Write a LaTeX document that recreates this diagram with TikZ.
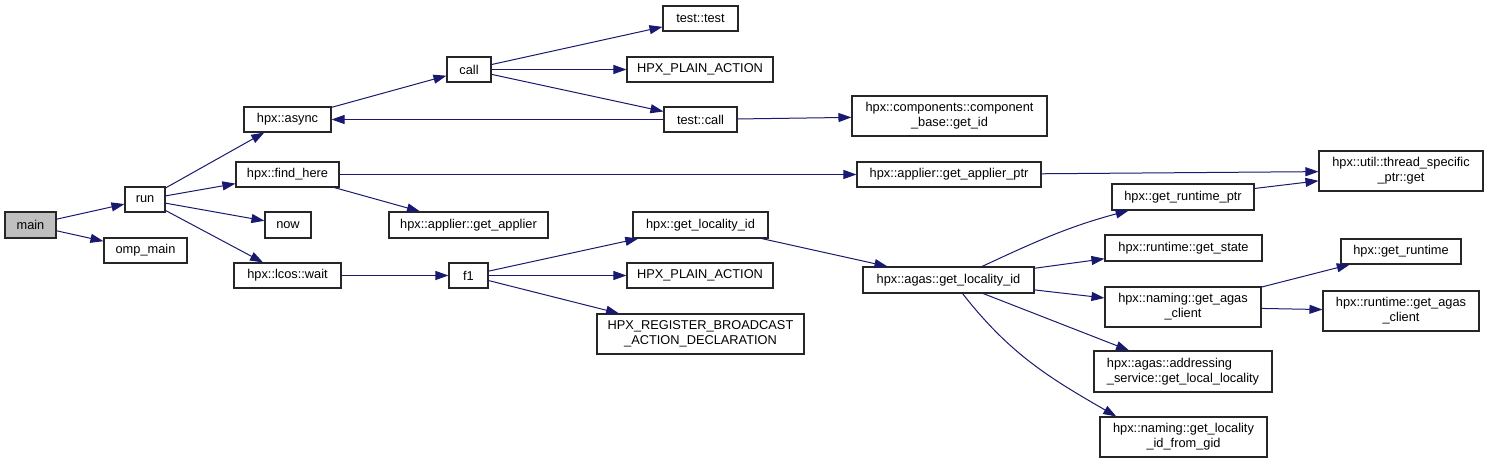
\documentclass[tikz,border=0pt]{standalone}
\usepackage{fontspec}
\setmainfont{Liberation Sans}
\usetikzlibrary{arrows.meta}
\definecolor{edgeblue}{RGB}{25,25,112}
\definecolor{mainfill}{RGB}{191,191,191}
\begin{document}
\begin{tikzpicture}[x=1pt,y=1pt,
  fn/.style={draw=black!85, line width=1.1pt, rectangle, inner sep=0pt, align=center,
    font=\fontsize{12.8}{15}\selectfont, fill=white},
  edge/.style={draw=edgeblue, line width=1pt, -{Triangle[length=13pt,width=9pt]}}
]
\useasboundingbox[fill=white] (0,0) rectangle (1488,463);
% rank 0
\node[fn, minimum width=51pt, minimum height=26pt, fill=mainfill] (main) at (30.5,238) {main};
% rank 1
\node[fn, minimum width=40pt, minimum height=25pt] (run) at (145,263.5) {run};
\node[fn, minimum width=83pt, minimum height=25pt] (omp) at (145.5,212.5) {omp\_main};
% rank 2
\node[fn, minimum width=87pt, minimum height=25pt] (async) at (287.5,343.5) {hpx::async};
\node[fn, minimum width=103pt, minimum height=25pt] (findhere) at (287.5,288.5) {hpx::find\_here};
\node[fn, minimum width=46pt, minimum height=26pt] (now) at (288,238) {now};
\node[fn, minimum width=107pt, minimum height=25pt] (wait) at (287.5,187.5) {hpx::lcos::wait};
% rank 3
\node[fn, minimum width=44pt, minimum height=25pt] (call) at (469,393.5) {call};
\node[fn, minimum width=159pt, minimum height=26pt] (getapplier) at (468.5,238) {hpx::applier::get\_applier};
\node[fn, minimum width=39pt, minimum height=25pt] (f1) at (468.5,187.5) {f1};
% rank 4
\node[fn, minimum width=75pt, minimum height=25pt] (testtest) at (700.5,444.5) {test::test};
\node[fn, minimum width=146pt, minimum height=25pt] (plainA) at (700,393.5) {HPX\_PLAIN\_ACTION};
\node[fn, minimum width=73pt, minimum height=25pt] (testcall) at (700.5,343.5) {test::call};
\node[fn, minimum width=135pt, minimum height=26pt] (getlocid) at (700.5,238) {hpx::get\_locality\_id};
\node[fn, minimum width=146pt, minimum height=25pt] (plainB) at (700,187.5) {HPX\_PLAIN\_ACTION};
\node[fn, minimum width=207pt, minimum height=40pt] (register) at (700.5,129) {HPX\_REGISTER\_BROADCAST\\\_ACTION\_DECLARATION};
% rank 5
\node[fn, minimum width=195pt, minimum height=40pt] (compbase) at (949.5,347) {hpx::components::component\\\_base::get\_id};
\node[fn, minimum width=184pt, minimum height=25pt] (applierptr) at (949,288.5) {hpx::applier::get\_applier\_ptr};
\node[fn, minimum width=171pt, minimum height=26pt] (agas) at (948.5,183) {hpx::agas::get\_locality\_id};
% rank 6
\node[fn, minimum width=142pt, minimum height=26pt] (grp) at (1183,266) {hpx::get\_runtime\_ptr};
\node[fn, minimum width=157pt, minimum height=26pt] (getstate) at (1183.5,215) {hpx::runtime::get\_state};
\node[fn, minimum width=156pt, minimum height=40pt] (naminggac) at (1183,156) {hpx::naming::get\_agas\\\_client};
\node[fn, minimum width=178pt, minimum height=41pt, align=left] (addr) at (1183,91.5) {hpx::agas::addressing\\\_service::get\_local\_locality};
\node[fn, minimum width=167pt, minimum height=40pt] (fromgid) at (1183.5,26) {hpx::naming::get\_locality\\\_id\_from\_gid};
% rank 7
\node[fn, minimum width=164pt, minimum height=40pt] (tsp) at (1401,292) {hpx::util::thread\_specific\\\_ptr::get};
\node[fn, minimum width=120pt, minimum height=25pt] (getruntime) at (1401,211.5) {hpx::get\_runtime};
\node[fn, minimum width=156pt, minimum height=40pt] (rtgac) at (1401,152) {hpx::runtime::get\_agas\\\_client};
% edges
\draw[edge] (main) -- (run);
\draw[edge] (main) -- (omp);
\draw[edge] (run) -- (async);
\draw[edge] (run) -- (findhere);
\draw[edge] (run) -- (now);
\draw[edge] (run) -- (wait);
\draw[edge] (async) -- (call);
\draw[edge] (testcall) -- (async);
\draw[edge] (call) -- (testtest);
\draw[edge] (call) -- (plainA);
\draw[edge] (call) -- (testcall);
\draw[edge] (testcall) -- (compbase);
\draw[edge] (findhere) -- (applierptr);
\draw[edge] (findhere) -- (getapplier);
\draw[edge] (applierptr) -- (tsp);
\draw[edge] (wait) -- (f1);
\draw[edge] (f1) -- (getlocid);
\draw[edge] (f1) -- (plainB);
\draw[edge] (f1) -- (register);
\draw[edge] (getlocid) -- (agas);
\draw[edge] (agas.22) to[out=25,in=195] (grp.194);
\draw[edge] (agas) -- (getstate);
\draw[edge] (agas) -- (naminggac);
\draw[edge] (agas) -- (addr);
\draw[edge] (agas.-44) to[out=-52,in=150] (fromgid.163);
\draw[edge] (grp) -- (tsp);
\draw[edge] (naminggac) -- (getruntime);
\draw[edge] (naminggac) -- (rtgac);
\end{tikzpicture}
\end{document}
